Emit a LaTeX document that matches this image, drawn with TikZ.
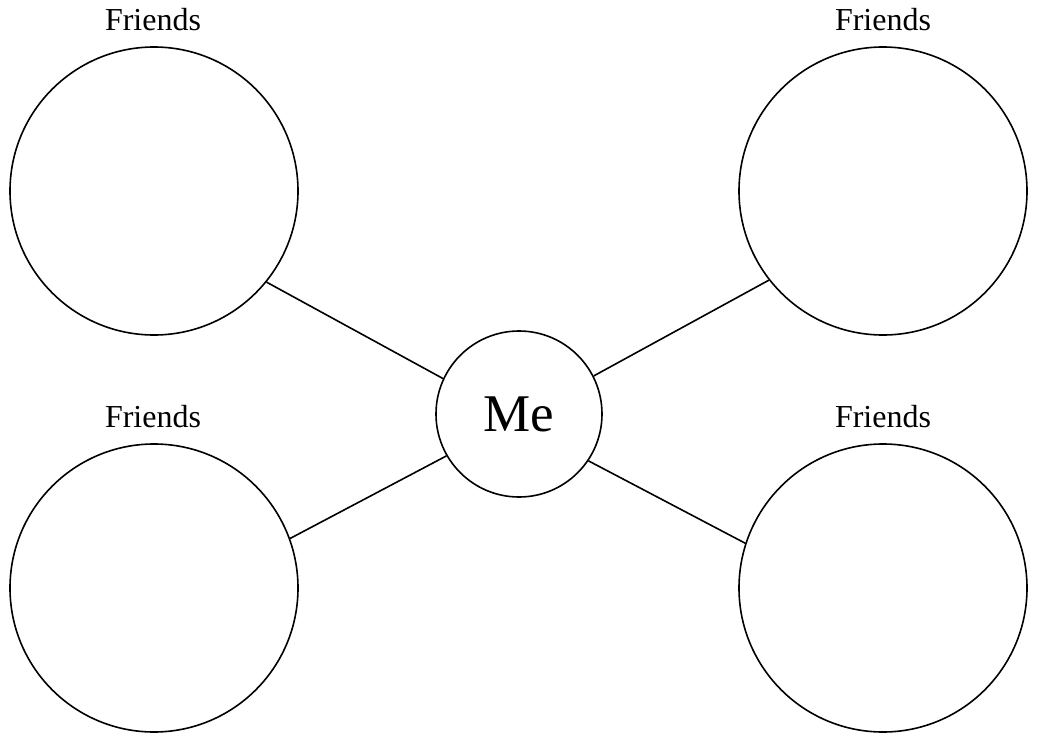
\documentclass[tikz,border=0pt]{standalone}
\usepackage{fontspec}
\setmainfont{Liberation Serif}
\usepackage{tikz}
\usetikzlibrary{positioning}

\begin{document}
\begin{tikzpicture}[
  x=1pt,y=-1pt,
  fr/.style={draw=black,circle,minimum size=288pt,inner sep=0pt,line width=1.6pt},
  me/.style={draw=black,circle,minimum size=166pt,inner sep=0pt,line width=1.6pt,font=\fontsize{53}{60}\selectfont},
  lbl/.style={font=\fontsize{32}{36}\selectfont,inner sep=0pt},
  a/.style={line width=1.6pt}
]
\useasboundingbox (0,0) rectangle (1037,736);
\node[me] (m) at (519,414) {Me};
\node[fr] (tl) at (154,191) {};
\node[fr] (tr) at (883,191) {};
\node[fr] (bl) at (154,588) {};
\node[fr] (br) at (883,588) {};
\node[lbl] (ftl) at (153,20) {Friends};
\node[lbl] (ftr) at (883,20) {Friends};
\node[lbl] (fbl) at (153,417) {Friends};
\node[lbl] (fbr) at (883,417) {Friends};
\draw[a] (tl.-39)--(m.155); \draw[a] (tr.-142)--(m.27);
\draw[a] (bl.20)--(m.210); \draw[a] (br.162)--(m.-34);
\end{tikzpicture}
\end{document}
